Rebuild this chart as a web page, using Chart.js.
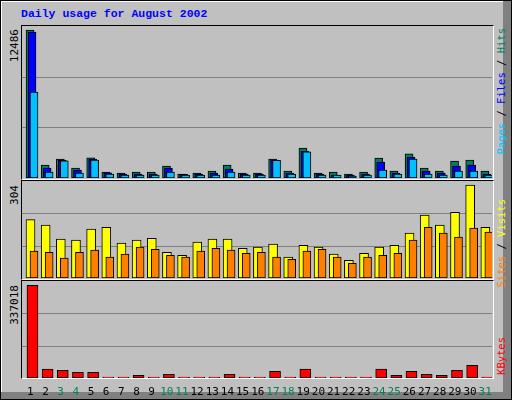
<!DOCTYPE html>
<html><head><meta charset="utf-8">
<script src="https://cdn.jsdelivr.net/npm/chart.js@4"></script>
<style>
html,body{margin:0;padding:0;background:#fff}
#frame{position:absolute;left:0;top:0;width:510px;height:398px;border:1px solid #000;background:#c0c0c0;overflow:hidden;font-family:"DejaVu Sans Mono",monospace}
#edgeR{position:absolute;left:502px;top:0;width:8px;height:398px;background:#808080}
#edgeB{position:absolute;left:0;top:391px;width:510px;height:7px;background:#808080}
#hiL{position:absolute;left:0;top:0;width:1px;height:391px;background:#fff}
#hiT{position:absolute;left:0;top:0;width:502px;height:1px;background:#fff}
.panel{position:absolute;border-top:1px solid #000;border-left:1px solid #000;border-right:1px solid #fff;border-bottom:1px solid #fff}
canvas{position:absolute;display:block}
.vt{position:absolute;writing-mode:vertical-rl;transform:rotate(180deg);font-size:10.5px;white-space:nowrap;line-height:12px}
#title{position:absolute;left:20px;top:6px;font-weight:bold;color:#0000ff;font-size:11.5px;font-family:"Liberation Mono","DejaVu Sans Mono",monospace}
</style></head><body>
<div id="frame">
<div id="edgeR"></div><div id="edgeB"></div><div id="hiL"></div><div id="hiT"></div>
<div id="title">Daily usage for August 2002</div>
<div class="panel" style="left:20px;top:24px;width:471px;height:153px"></div>
<div class="panel" style="left:20px;top:179px;width:471px;height:98px"></div>
<div class="panel" style="left:20px;top:279px;width:471px;height:97px"></div>
<canvas id="c1" width="470" height="152" style="left:21px;top:25px"></canvas>
<canvas id="c2" width="470" height="97" style="left:21px;top:180px"></canvas>
<canvas id="c3" width="470" height="118" style="left:21px;top:280px"></canvas>
<div class="vt" style="left:8px;top:28px;color:#000;font-size:11px">12486</div>
<div class="vt" style="left:8px;top:184px;color:#000;font-size:11px">304</div>
<div class="vt" style="left:8px;top:284px;color:#000;font-size:11px">337018</div>
<div class="vt" style="left:494px;top:27px"><span style="color:#00c0ff">Pages</span><span style="color:#000"> / </span><span style="color:#0000ff">Files</span><span style="color:#000"> / </span><span style="color:#00805c">Hits</span></div>
<div class="vt" style="left:494px;top:198px"><span style="color:#ff8000">Sites</span><span style="color:#000"> / </span><span style="color:#ffff00">Visits</span></div>
<div class="vt" style="left:494px;top:336px;color:#ff0000">KBytes</div>
</div>
<script>
const days = Array.from({length:31},(_,i)=>i+1);
const weekendDays = [3,4,10,11,17,18,24,25,31];
const hits  = [12486,1100,1600,840,1700,500,420,500,500,1000,330,420,590,1100,420,420,1600,590,2530,420,500,330,500,1690,590,2030,840,590,1430,1520,590];
const files = [12300,840,1500,670,1600,440,330,330,330,840,300,330,420,760,330,330,1520,420,2280,330,250,250,330,1350,420,1770,590,420,1000,1100,330];
const pages = [7250,500,1450,420,1520,340,250,250,250,500,250,250,250,500,250,250,1500,340,2200,250,250,170,250,670,340,1600,340,250,590,590,250];
const visits = [191,173,127,124,160,166,114,124,130,84,74,117,127,127,97,101,111,68,107,101,78,58,81,101,107,147,206,173,215,304,166];
const sites  = [88,84,65,84,91,68,78,101,94,74,68,88,97,91,81,84,68,61,88,94,68,48,68,74,81,124,166,147,134,163,150];
const kbytes = [337018,32000,28000,21000,21000,3000,3000,10000,3000,13500,3000,3000,3000,13500,3000,3000,24500,3000,32000,3000,3000,3000,3000,32000,10000,24500,13500,10000,28000,46500,3000];

const pts = (arr,off)=>arr.map((v,i)=>({x:days[i]+off,y:v}));
const gridPlugin = {id:'grid',beforeDatasetsDraw(ch){
  const c=ch.ctx,y=ch.scales.y,a=ch.chartArea,m=y.max;
  c.save();c.strokeStyle='#808080';c.lineWidth=1;
  [m/3,2*m/3].forEach(v=>{const p=Math.round(y.getPixelForValue(v))+0.5;c.beginPath();c.moveTo(a.left,p);c.lineTo(a.right,p);c.stroke();});
  c.restore();}};
const labelPlugin = {id:'lbl',afterDraw(ch){
  if(!ch.options.plugins.lbl||!ch.options.plugins.lbl.on) return;
  const c=ch.ctx,x=ch.scales.x;c.save();c.font='11px "DejaVu Sans Mono",monospace';c.textAlign='center';c.textBaseline='alphabetic';
  days.forEach(d=>{c.fillStyle=weekendDays.includes(d)?'#00805c':'#000';c.fillText(String(d),x.getPixelForValue(d+0.05),ch.chartArea.bottom+17);});
  c.restore();}};
function ds(data,color,w,order){return {data,order,backgroundColor:color,borderColor:'#000',borderWidth:1,borderSkipped:false,barThickness:w,grouped:false};}
function make(id,datasets,max,padB,lbl){
  new Chart(document.getElementById(id),{type:'bar',data:{datasets},
    options:{responsive:false,animation:false,devicePixelRatio:1,layout:{padding:{left:0,right:0,top:0,bottom:padB}},
      plugins:{legend:{display:false},tooltip:{enabled:false},lbl:{on:lbl}},
      scales:{x:{type:'linear',min:0.5,max:31.5,offset:false,display:false},y:{min:0,max:max,display:false}}},
    plugins:[gridPlugin,labelPlugin]});
}
make('c1',[ds(pts(hits,0.03),'#00805c',8,3),ds(pts(files,0.16),'#0000ff',8,2),ds(pts(pages,0.29),'#00c0ff',8,1)],12823,0,false);
make('c2',[ds(pts(visits,0.06),'#ffff00',9,2),ds(pts(sites,0.29),'#ff8000',8,1)],317,0,false);
make('c3',[ds(pts(kbytes,0.19),'#ff0000',11,1)],352800,21,true);
</script>
</body></html>
